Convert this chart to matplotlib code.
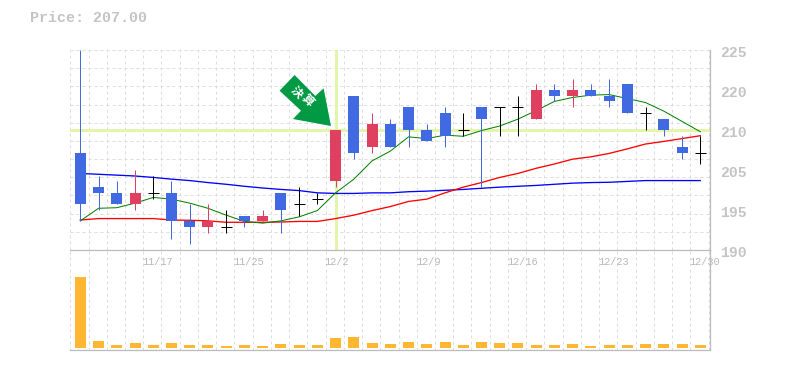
import matplotlib
matplotlib.use("Agg")
import matplotlib.pyplot as plt
import numpy as np
from matplotlib.patches import Polygon

plt.rcParams['font.family'] = ['Liberation Mono', 'Noto Sans CJK JP', 'DejaVu Sans']

opens = [207, 201, 200, 198, 200, 200, 195, 194, 194, 196, 195, 200, 198, 199, 202, 217, 208, 212,
         215, 211, 214, 211, 215, 215, 215, 213, 218, 217, 218, 217, 219, 214, 213, 208, 207]
highs = [225, 203, 202, 204, 203, 202, 198, 198, 197, 196, 197, 200, 201, 200, 211, 217, 214, 213,
         215, 212, 215, 214, 215, 215, 217, 219, 219, 220, 219, 220, 219, 215, 213, 210, 210]
lows = [195, 197, 198, 197, 199, 192, 191, 193, 193, 194, 195, 193, 196, 198, 201, 206, 207, 208,
        208, 209, 208, 210, 201, 210, 210, 213, 216, 215, 217, 215, 214, 211, 210, 206, 205]
closes = [198, 200, 198, 200, 200, 195, 194, 195, 194, 195, 196, 197, 198, 199, 211, 207, 212, 208,
          211, 209, 210, 211, 213, 215, 215, 218, 217, 218, 217, 216, 214, 214, 211, 207, 207]
ma_short = [195.1, 197.3, 197.4, 198.2, 199.2, 198.9, 198.2, 197.3, 196.1, 195.0, 194.7, 195.1,
            195.8, 196.9, 200.0, 202.4, 205.6, 207.3, 209.8, 209.5, 210.1, 209.9, 210.9, 211.7,
            212.9, 214.4, 216.0, 216.7, 217.1, 217.2, 216.5, 215.8, 214.3, 212.5, 210.7]
ma_mid = [195.25, 195.5, 195.5, 195.5, 195.5, 195.25, 195.2, 195.1, 194.85, 194.85, 194.85, 194.9,
          195.0, 195.0, 195.5, 196.1, 196.9, 197.6, 198.5, 198.9, 200.0, 201.0, 201.8, 202.7,
          203.4, 204.3, 205.05, 205.9, 206.3, 206.9, 207.7, 208.55, 209.0, 209.5, 210.0]
ma_long = [203.4, 203.25, 203.1, 202.95, 202.7, 202.4, 202.15, 201.8, 201.5, 201.15, 200.85, 200.6,
           200.4, 200.0, 199.9, 199.9, 200.0, 200.0, 200.2, 200.3, 200.45, 200.6, 200.8, 201.0,
           201.15, 201.3, 201.5, 201.7, 201.8, 201.85, 202.0, 202.15, 202.15, 202.15, 202.15]
volumes = [71, 7, 3, 5, 3, 5, 3, 3, 2, 3, 2, 4, 3, 3, 10, 11, 5, 4,
           6, 4, 6, 3, 6, 5, 5, 3, 3, 4, 2, 3, 3, 4, 4, 4, 3]
price_ticks = [190, 197, 204, 211, 218, 225]
price_labels = ['190', '195', '205', '210', '220', '225']
date_idx = [4, 9, 14, 19, 24, 29, 34]
date_labels = ['11/17', '11/25', '12/2', '12/9', '12/16', '12/23', '12/30']
signal_idx = 14
signal_price = 211
last_price = 207.00

W, H = 785, 370
BLUE = '#4169e1'
RED = '#e04060'
GRID = '#dddddd'
AXIS = '#bbbbbb'
TEXT = '#c4c4c4'
SLOT = 18.235
x = np.arange(len(closes))
xlim = (-10 / SLOT, 34 + 9.7 / SLOT)
body_w = 11 / SLOT


def px_axes(left, top, right, bottom):
    return fig.add_axes([left / W, 1 - bottom / H, (right - left) / W, (bottom - top) / H])


fig = plt.figure(figsize=(W / 100, H / 100), dpi=100, facecolor='white')
ax = px_axes(70.3, 50, 710, 250)
vol = px_axes(70.3, 250, 710, 350)

grid_x = np.arange(len(closes) + 1) - 10 / SLOT
for a in (ax, vol):
    a.set_xlim(*xlim)
    a.set_xticks([])
    a.set_yticks([])
    for s in a.spines.values():
        s.set_visible(False)
    a.vlines(grid_x, 0, 1, transform=a.get_xaxis_transform(), color=GRID, lw=0.72,
             linestyles=(0, (3, 3)), zorder=1)

ax.set_ylim(190, 225)
ax.hlines(np.linspace(190, 225, 12), 0, 1, transform=ax.get_yaxis_transform(), color=GRID, lw=0.72,
          linestyles=(0, (3, 3)), zorder=1)

# crosshair on the signal candle
ax.axhline(signal_price, color='#e2f5aa', lw=2.16, zorder=2)
ax.axvline(signal_idx, color='#e2f5aa', lw=2.16, zorder=2)

ax.plot(x, ma_long, color='#0000ff', lw=0.95, zorder=3)
ax.plot(x, ma_mid, color='#ff0000', lw=0.95, zorder=3)
ax.plot(x, ma_short, color='#007f00', lw=0.72, zorder=3)

for i in x:
    o, c = opens[i], closes[i]
    if o == c:
        col = 'black'
    elif c > o:
        col = RED
    else:
        col = BLUE
    ax.vlines(i, lows[i], highs[i], color=col, lw=0.72, zorder=4)
    if o == c:
        ax.hlines(o, i - body_w / 2, i + body_w / 2, color=col, lw=0.72, zorder=4)
    else:
        ax.bar(i, abs(c - o), bottom=min(o, c), width=body_w, color=col, lw=0, zorder=5)

vol.set_ylim(-2, 98)
vol.bar(x, volumes, width=body_w, color='#ffb732', lw=0, zorder=3)

# solid frame: line between the panels, bottom and the right side
for a, sides in ((ax, ('right',)), (vol, ('top', 'bottom', 'right'))):
    for side in sides:
        a.spines[side].set_visible(True)
        a.spines[side].set_color(AXIS)
        a.spines[side].set_linewidth(0.9)

for p, lab in zip(price_ticks, price_labels):
    ax.annotate(lab, xy=(1, p), xycoords=ax.get_yaxis_transform(), xytext=(7.2, -2.2),
                textcoords='offset points', ha='left', va='center', fontsize=10.6, color=TEXT,
                fontweight='bold', annotation_clip=False)

for i, lab in zip(date_idx, date_labels):
    vol.annotate(lab, xy=(i - 10 / SLOT, 1), xycoords=vol.get_xaxis_transform(), xytext=(-0.7, -8.6),
                 textcoords='offset points', ha='left', va='center', fontsize=7.4, color='#b8b8b8',
                 annotation_clip=False)

fig.text(30 / W, 1 - 18 / H, 'Price: %.2f' % last_price, ha='left', va='center', fontsize=10.8,
         color=TEXT, fontweight='bold')

# green arrow pointing at the crosshair, outline in px from its tip
tx, ty = ax.transData.transform((signal_idx, signal_price))
tip_x, tip_y = tx - 4.6, ty + 4
arrow_dx = np.array([0, -38, -30, -51.4, -36.4, -15.7, -7.4])
arrow_dy = np.array([0, 7, 15.3, 35.3, 51, 30, 37.7])
fig.add_artist(Polygon(np.c_[tip_x + arrow_dx, tip_y + arrow_dy], closed=True, fc='#009944', ec='none',
                       transform=None, zorder=6))
for lab, dx, dy in [('決', -38.6, 38), ('算', -28.6, 29)]:
    fig.text((tx + dx) / W, (ty + dy) / H, lab, color='white', fontsize=8.5, fontweight='bold',
             rotation=-45, ha='center', va='center', family=['Noto Sans CJK JP'], zorder=7)

fig.savefig('out.png', dpi=100)
